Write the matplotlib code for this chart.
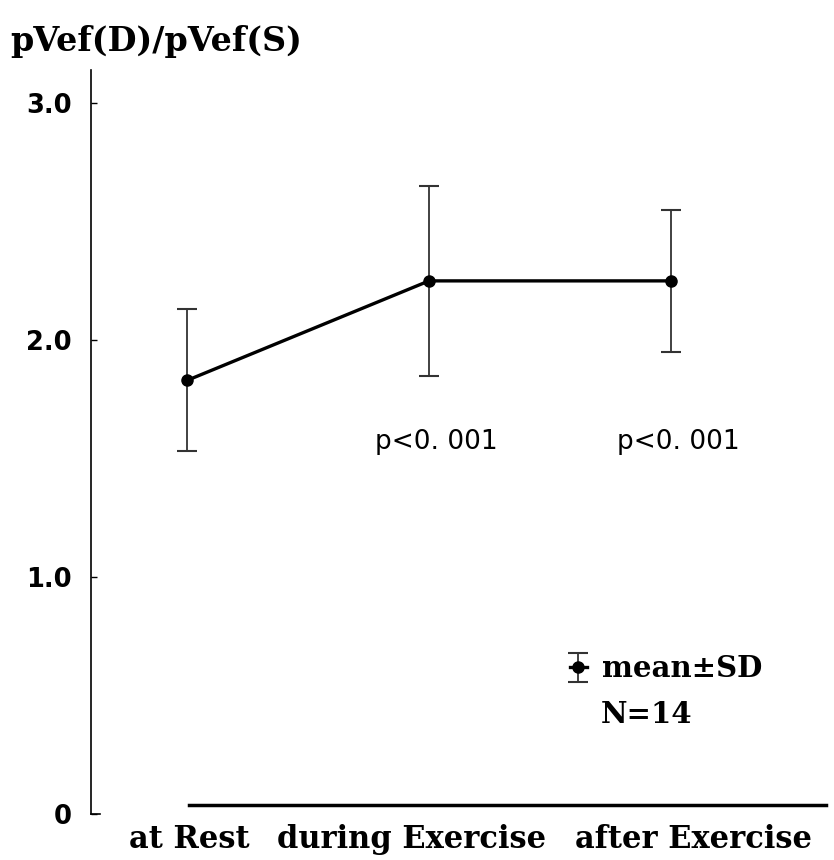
import numpy as np
import matplotlib.pyplot as plt
from matplotlib.transforms import ScaledTranslation

# values
stages = ['at Rest', 'during Exercise', 'after Exercise']
ratio_mean = [1.83, 2.25, 2.25]
ratio_sd = [0.30, 0.40, 0.30]
p_labels = ['', 'p<0. 001', 'p<0. 001']
y_ticks = [0, 1.0, 2.0, 3.0]
y_ticklabels = ['0', '1.0', '2.0', '3.0']

plt.rcParams['font.family'] = ['DejaVu Serif']
plt.rcParams['font.weight'] = 'bold'

fig = plt.figure(figsize=(8.34, 8.6), dpi=100)
ax = fig.add_axes([91/834, 46/860, (830-91)/834, (814-70)/860])

x = np.arange(len(stages))
ax.errorbar(x, ratio_mean, yerr=ratio_sd, color='black', lw=2.4, marker='o',
            ms=8, ecolor='#333333', elinewidth=1.3, capsize=7, capthick=1.5,
            label='mean±SD')

for xi, lab in zip(x, p_labels):
    ax.text(xi + 0.03, 1.57, lab, ha='center', va='center', fontsize=19,
            fontfamily='DejaVu Sans', fontweight='normal')

ax.set_xlim(-0.397, 2.657)
ax.set_ylim(0, 3.14)

for side in ['top', 'right']:
    ax.spines[side].set_visible(False)
ax.spines['left'].set_linewidth(1.2)
ax.spines['bottom'].set_position(('data', 0.04))
ax.spines['bottom'].set_bounds(0.01, 2.64)
ax.spines['bottom'].set_linewidth(2.5)
ax.plot([-0.397, -0.36], [0.0, 0.0], color='black', lw=1.2, clip_on=False)

ax.set_yticks(y_ticks)
ax.set_yticklabels(y_ticklabels, fontsize=18.5, fontfamily='DejaVu Sans', fontweight='bold')
ax.tick_params(axis='y', direction='in', length=4, width=1, pad=14)
ax.set_xticks(x)
ax.set_xticklabels(stages, fontsize=22)
ax.tick_params(axis='x', length=0, pad=14)
# the printed labels sit a little off the category centres
for lab, dx in zip(ax.get_xticklabels(), [2, -17, 22]):
    lab.set_transform(lab.get_transform() + ScaledTranslation(dx / 100, 0, fig.dpi_scale_trans))

leg = ax.legend(loc='center left', bbox_to_anchor=(0.612, 0.195), frameon=False,
                fontsize=21, handlelength=0.6, handletextpad=0.5)
ax.text(1.71, 0.42, 'N=14', ha='left', va='center', fontsize=21)

fig.text(0.012, 0.952, 'pVef(D)/pVef(S)', ha='left', va='center', fontsize=24)

plt.savefig('out.png', dpi=100)
plt.close()
